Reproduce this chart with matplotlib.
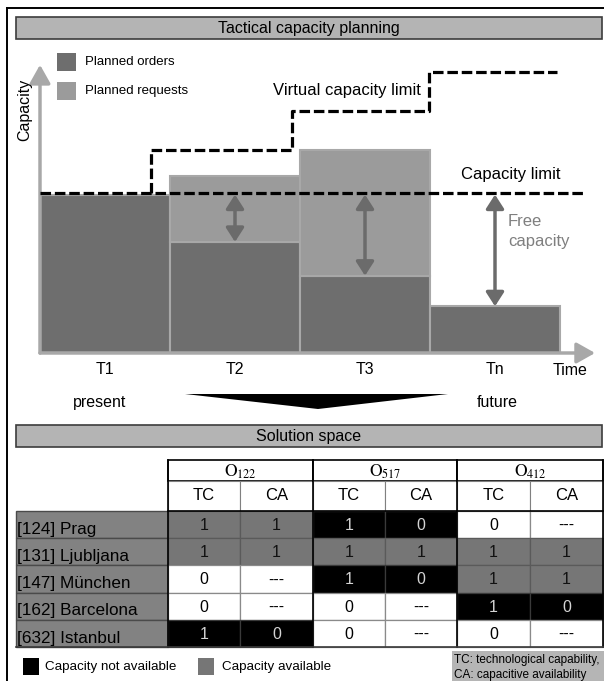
import matplotlib
matplotlib.use("Agg")
import matplotlib.pyplot as plt
from matplotlib.patches import Rectangle, Polygon

plt.rcParams['font.family'] = ['Liberation Sans', 'DejaVu Sans']
plt.rcParams['mathtext.fontset'] = 'stix'

# capacity chart data (capacity units, capacity limit ~100)
periods = ['T1', 'T2', 'T3', 'Tn']
planned_orders = [98, 69, 48, 29]
planned_requests = [0, 41, 78, 0]
capacity_limit = 99.4
virtual_steps = [0.85, 1.94, 2.99]
virtual_levels = [126, 150, 174.5]
virtual_end = 3.98

# solution space table
order_ids = ['122', '517', '412']
sub_cols = ['TC', 'CA']
locations = ['[124] Prag', '[131] Ljubljana', '[147] München',
             '[162] Barcelona', '[632] Istanbul']
values = [
    ['1', '1', '1', '0', '0', '---'],
    ['1', '1', '1', '1', '1', '1'],
    ['0', '---', '1', '0', '1', '1'],
    ['0', '---', '0', '---', '1', '0'],
    ['1', '0', '0', '---', '0', '---'],
]

DARK = '#6e6e6e'
LIGHT = '#9b9b9b'
ARROW = '#6b6b6b'
AXIS = '#a8a8a8'
BAR_GRAY = '#b4b4b4'

fig = plt.figure(figsize=(6.04, 6.81), dpi=100)

# background axes in pixel units
bg = fig.add_axes([0, 0, 1, 1])
bg.set_xlim(0, 604)
bg.set_ylim(681, 0)
bg.axis('off')

# outer frame
bg.plot([7, 7], [690, 7.5], color='black', lw=1.4)
bg.plot([7, 604], [7.5, 7.5], color='black', lw=1.4)

# section title bars
for y0, title in [(17, 'Tactical capacity planning'), (425, 'Solution space')]:
    bg.add_patch(Rectangle((16, y0), 586, 21.5, fc=BAR_GRAY, ec='#3c3c3c', lw=1.2))
    bg.text(309, y0 + 11, title, ha='center', va='center', fontsize=11.5)

# legend of the chart
bg.add_patch(Rectangle((57, 53), 19, 18, fc=DARK, ec='none'))
bg.add_patch(Rectangle((57, 82), 19, 18, fc=LIGHT, ec='none'))
bg.text(85, 62, 'Planned orders', va='center', fontsize=9.5)
bg.text(85, 91, 'Planned requests', va='center', fontsize=9.5)

# big wedge arrow pointing down to the solution space
bg.add_patch(Polygon([(185, 394), (448, 394), (318, 409)], closed=True,
                     fc='black', ec='none'))

# ---- capacity chart ----
cx0, cy0, cw, ch = 40, 353, 560, 300
px_t, px_c = 130.0, 1.61
ax = fig.add_axes([cx0 / 604, (681 - cy0) / 681, cw / 604, ch / 681])
ax.set_xlim(0, cw / px_t)
ax.set_ylim(0, ch / px_c)
ax.axis('off')

xpos = [i + 0.5 for i in range(len(periods))]
ax.bar(xpos, planned_orders, width=1, color=DARK, edgecolor=AXIS, lw=1.5, zorder=2)
req_x = [x for x, r in zip(xpos, planned_requests) if r > 0]
req_h = [r for r in planned_requests if r > 0]
req_b = [o for o, r in zip(planned_orders, planned_requests) if r > 0]
ax.bar(req_x, req_h, bottom=req_b, width=1, color=LIGHT, edgecolor=AXIS, lw=1.5, zorder=2)

# axes arrows
ax.annotate('', xy=(0, 179), xytext=(0, 0), annotation_clip=False,
            arrowprops=dict(arrowstyle='-|>,head_width=0.45,head_length=0.8',
                            color=AXIS, lw=2.5, shrinkA=0, shrinkB=0,
                            mutation_scale=14), zorder=3)
ax.annotate('', xy=(4.27, 0), xytext=(0, 0), annotation_clip=False,
            arrowprops=dict(arrowstyle='-|>,head_width=0.45,head_length=0.8',
                            color=AXIS, lw=2.5, shrinkA=0, shrinkB=0,
                            mutation_scale=14), zorder=3)

dash = (0, (3.3, 1.2))
ax.plot([0, 4.19], [capacity_limit, capacity_limit], color='black', lw=2.3,
        ls=dash, zorder=4, clip_on=False)
vx = [virtual_steps[0]]
vy = [capacity_limit]
for i, lev in enumerate(virtual_levels):
    nxt = virtual_steps[i + 1] if i + 1 < len(virtual_steps) else virtual_end
    vx += [virtual_steps[i], nxt]
    vy += [lev, lev]
ax.plot(vx, vy, color='black', lw=2.3, ls=dash, zorder=4, clip_on=False)

# free capacity arrows
for i in range(1, len(periods)):
    ax.annotate('', xy=(xpos[i], capacity_limit - 1), xytext=(xpos[i], planned_orders[i]),
                annotation_clip=False,
                arrowprops=dict(arrowstyle='<|-|>,head_width=0.45,head_length=0.7',
                                color=ARROW, lw=2.5, shrinkA=0, shrinkB=0,
                                mutation_scale=12), zorder=5)

ax.text(-0.115, 151, 'Capacity', rotation=90, ha='center', va='center', fontsize=11.5)
ax.text(2.36, 163, 'Virtual capacity limit', ha='center', va='center', fontsize=12)
ax.text(3.62, 110.6, 'Capacity limit', ha='center', va='center', fontsize=12)
ax.text(3.6, 81.4, 'Free', ha='left', va='center', fontsize=12, color='#7f7f7f')
ax.text(3.6, 69, 'capacity', ha='left', va='center', fontsize=12, color='#7f7f7f')

for x, p in zip(xpos, periods):
    ax.text(x, -10, p, ha='center', va='center', fontsize=11.5, clip_on=False)
ax.text(4.08, -11, 'Time', ha='center', va='center', fontsize=11.5)
ax.text(0.46, -31, 'present', ha='center', va='center', fontsize=11.5)
ax.text(3.52, -31, 'future', ha='center', va='center', fontsize=11.5)

# ---- solution space table (pixel axes) ----
col_x = [168, 240, 313, 385, 457, 530, 603]
h1_top, h1_bot, h2_bot = 460, 481, 511
row_h = 27.2
n_rows = len(locations)
table_bot = h2_bot + row_h * n_rows

for g, oid in enumerate(order_ids):
    x0, x1 = col_x[2 * g], col_x[2 * g + 2]
    bg.add_patch(Rectangle((x0, h1_top), x1 - x0, h1_bot - h1_top, fc='white',
                           ec='black', lw=1.2))
    bg.text((x0 + x1) / 2, (h1_top + h1_bot) / 2 + 1, r'$\mathrm{O}_{%s}$' % oid,
            ha='center', va='center', fontsize=12.5)
    for k, sc in enumerate(sub_cols):
        j = 2 * g + k
        bg.add_patch(Rectangle((col_x[j], h1_bot), col_x[j + 1] - col_x[j],
                               h2_bot - h1_bot, fc='white', ec='#808080', lw=0.8))
        bg.text((col_x[j] + col_x[j + 1]) / 2, (h1_bot + h2_bot) / 2, sc,
                ha='center', va='center', fontsize=12)

for r, loc in enumerate(locations):
    y0 = h2_bot + r * row_h
    bg.add_patch(Rectangle((16, y0), 152, row_h, fc='#828282', ec='#4a4a4a', lw=1))
    bg.text(17, y0 + row_h - 4.5, loc, ha='left', va='baseline', fontsize=12.3)
    for g in range(3):
        tc, ca = values[r][2 * g], values[r][2 * g + 1]
        if tc == '0':
            fc, tcol, ec = 'white', 'black', '#8a8a8a'
        elif ca == '1':
            fc, tcol, ec = '#767676', '#111111', '#5a5a5a'
        else:
            fc, tcol, ec = 'black', '#d4d4d4', '#3a3a3a'
        for k in range(2):
            j = 2 * g + k
            bg.add_patch(Rectangle((col_x[j], y0), col_x[j + 1] - col_x[j], row_h,
                                   fc=fc, ec=ec, lw=0.9))
            bg.text((col_x[j] + col_x[j + 1]) / 2, y0 + row_h / 2 + 1, values[r][j],
                    ha='center', va='center', fontsize=11.5, color=tcol)

# group borders
for x in [col_x[0], col_x[2], col_x[4], col_x[6]]:
    bg.plot([x, x], [h1_top, table_bot], color='black', lw=1.2)
bg.plot([col_x[0], col_x[6]], [h2_bot, h2_bot], color='black', lw=1.2)
bg.plot([16, col_x[6]], [table_bot, table_bot], color='#3a3a3a', lw=1.2)

# bottom legend
bg.add_patch(Rectangle((23, 658), 16, 17, fc='black', ec='none'))
bg.text(45, 667, 'Capacity not available', va='center', fontsize=9.6)
bg.add_patch(Rectangle((198, 658), 16, 17, fc='#767676', ec='none'))
bg.text(222, 667, 'Capacity available', va='center', fontsize=9.6)
bg.add_patch(Rectangle((452, 651), 152, 31, fc='#b5b5b5', ec='none'))
bg.text(454, 660, 'TC: technological capability,', va='center', fontsize=8.5)
bg.text(454, 675, 'CA: capacitive availability', va='center', fontsize=8.5)

fig.savefig('out.png', dpi=100)
